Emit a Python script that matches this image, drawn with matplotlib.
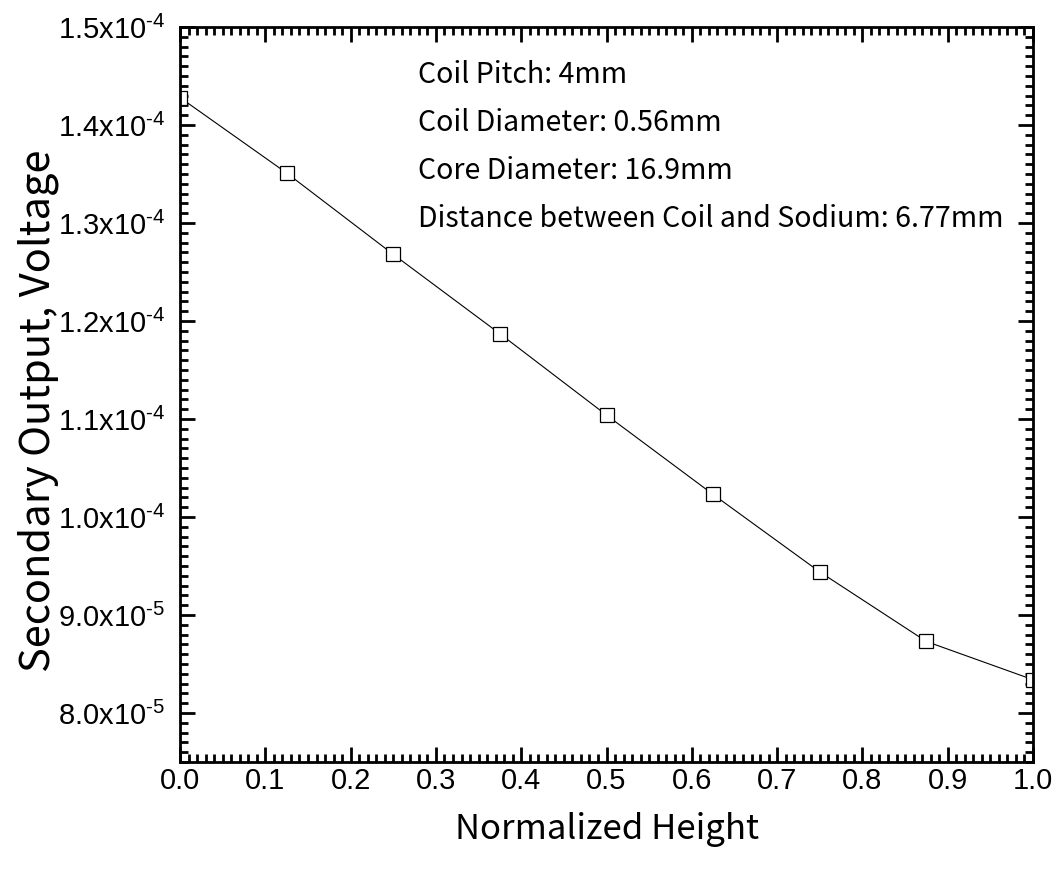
import numpy as np
import matplotlib
matplotlib.use("Agg")
import matplotlib.pyplot as plt
from matplotlib.ticker import MultipleLocator, FuncFormatter

# data
height = [0.0, 0.125, 0.25, 0.375, 0.5, 0.625, 0.75, 0.875, 1.0]
voltage = [1.428e-4, 1.351e-4, 1.268e-4, 1.187e-4, 1.104e-4,
           1.023e-4, 9.44e-5, 8.73e-5, 8.34e-5]

notes = ["Coil Pitch: 4mm",
         "Coil Diameter: 0.56mm",
         "Core Diameter: 16.9mm",
         "Distance between Coil and Sodium: 6.77mm"]

plt.rcParams['mathtext.fontset'] = 'custom'
plt.rcParams['mathtext.rm'] = 'Liberation Sans'
plt.rcParams['mathtext.it'] = 'Liberation Sans'

fig = plt.figure(figsize=(10.61, 8.77), dpi=100)
ax = fig.add_axes([0.1697, 0.1311, 0.8039, 0.8381])

ax.plot(height, voltage, color='black', linewidth=0.8, marker='s',
        markersize=10, markerfacecolor='white', markeredgecolor='black',
        markeredgewidth=0.9)

ax.set_xlim(0, 1.0)
ax.set_ylim(7.5e-5, 1.5e-4)

ax.xaxis.set_major_locator(MultipleLocator(0.1))
ax.xaxis.set_minor_locator(MultipleLocator(0.01))
ax.yaxis.set_major_locator(MultipleLocator(1e-5))
ax.yaxis.set_minor_locator(MultipleLocator(1e-6))


def sci(v, pos):
    if v <= 0:
        return ""
    e = int(np.floor(np.log10(v) + 1e-9))
    m = v / 10 ** e
    # plain hyphen in the exponent, like the original
    return r'$\mathregular{%.1fx10^{\text{-}%d}}$' % (m, -e)


ax.yaxis.set_major_formatter(FuncFormatter(sci))
ax.xaxis.set_major_formatter(FuncFormatter(lambda v, p: "%.1f" % v))

for s in ax.spines.values():
    s.set_linewidth(2)
ax.tick_params(which='both', direction='in', top=True, right=True, width=2,
               labelsize=21)
ax.tick_params(axis='x', pad=3.5)
ax.tick_params(axis='y', pad=11)
ax.tick_params(which='major', length=11)
ax.tick_params(which='minor', length=6)
for lab in ax.get_xticklabels() + ax.get_yticklabels():
    lab.set_fontfamily('Liberation Sans')

for i, t in enumerate(notes):
    ax.text(0.2785, 0.935 - i * 0.0655, t, transform=ax.transAxes,
            fontsize=20.5, family='Noto Sans CJK KR', va='center', ha='left')

ax.set_xlabel("Normalized Height", fontsize=25, family='Noto Sans CJK KR')
ax.set_ylabel("Secondary Output, Voltage", fontsize=30,
              family='Noto Sans CJK KR')
ax.xaxis.set_label_coords(0.5, -0.068)
ax.yaxis.set_label_coords(-0.142, 0.478)

fig.savefig("out.png", dpi=100)
